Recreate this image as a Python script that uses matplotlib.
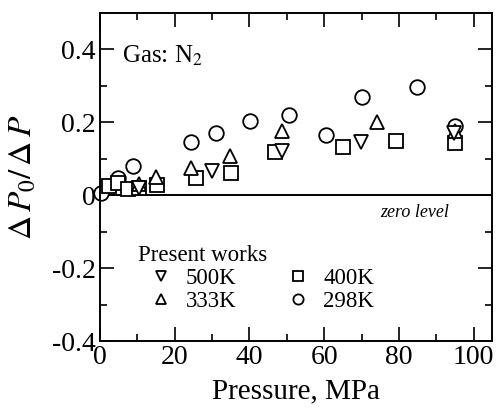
import matplotlib
matplotlib.use("Agg")
import matplotlib.pyplot as plt
import matplotlib.transforms as mtransforms

plt.rcParams['font.family'] = ['Liberation Serif', 'DejaVu Serif']
plt.rcParams['mathtext.fontset'] = 'stix'

# 298K (circles)
p298 = [0.3, 4.7, 8.9, 24.4, 31.1, 40.2, 50.5, 60.6, 70.0, 84.9, 94.9]
r298 = [0.006, 0.046, 0.081, 0.145, 0.170, 0.205, 0.221, 0.166, 0.270, 0.297, 0.191]
# 400K (squares)
p400 = [2.4, 4.7, 7.6, 10.5, 15.3, 25.8, 35.1, 46.8, 64.9, 79.3, 94.9]
r400 = [0.025, 0.034, 0.018, 0.020, 0.029, 0.046, 0.062, 0.118, 0.131, 0.149, 0.144]
# 333K (up triangles)
p333 = [10.5, 15.1, 24.4, 34.8, 48.7, 74.2, 94.9]
r333 = [0.032, 0.050, 0.074, 0.108, 0.177, 0.200, 0.175]
# 500K (down triangles)
p500 = [10.4, 30.0, 48.7, 69.8, 94.7]
r500 = [0.020, 0.066, 0.122, 0.145, 0.170]

fig = plt.figure(figsize=(4.97, 4.12), dpi=100)
ax = fig.add_axes([0.2012, 0.1723, 0.7896, 0.7961])

ax.axhline(0, color='k', lw=1.4, zorder=1)

style = dict(ls='none', mfc='white', mec='k', mew=1.3)
h298, = ax.plot(p298, r298, 'o', ms=10.5, label='298K', **style)
h400, = ax.plot(p400, r400, 's', ms=9.5, label='400K', **style)
h333, = ax.plot(p333, r333, '^', ms=10, label='333K', **style)
h500, = ax.plot(p500, r500, 'v', ms=10, label='500K', **style)
for h in (h298, h400, h333, h500):
    h.set_clip_on(False)

ax.set_xlim(0, 105)
ax.set_ylim(-0.4, 0.5)
ax.set_xticks([0, 20, 40, 60, 80, 100])
ax.set_xticks(range(10, 101, 20), minor=True)
ax.set_yticks([-0.4, -0.2, 0, 0.2, 0.4])
ax.set_yticklabels(['-0.4', '-0.2', '0', '0.2', '0.4'])
ax.set_yticks([-0.3, -0.1, 0.1, 0.3], minor=True)
ax.tick_params(which='both', direction='in', top=True, right=True,
               labelsize=20, width=1.2)
ax.tick_params(which='major', length=10)
ax.tick_params(which='minor', length=5)
ax.tick_params(axis='x', pad=3)
ax.tick_params(axis='y', pad=3)
for s in ax.spines.values():
    s.set_linewidth(1.4)

ax.set_xlabel('Pressure, MPa', fontsize=21, labelpad=6)
ax.set_ylabel(r'$\Delta\,P_0/\,\Delta\,P$', fontsize=24, labelpad=10)

ax.text(0.055, 0.87, r'Gas: N$_2$', transform=ax.transAxes, fontsize=18,
        ha='left', va='center')
trans = mtransforms.blended_transform_factory(ax.transData, ax.transData)
ax.text(93.3, -0.047, 'zero level', fontsize=13, style='italic',
        ha='right', va='center', transform=trans)

ax.text(0.097, 0.262, 'Present works', transform=ax.transAxes, fontsize=16.5,
        ha='left', va='center')
leg = ax.legend(handles=[h500, h333, h400, h298], ncol=2, loc='center left',
                bbox_to_anchor=(0.125, 0.155), frameon=False, fontsize=16.5,
                markerscale=0.7, handlelength=1.0, handletextpad=0.6,
                columnspacing=2.2, labelspacing=0.1, borderaxespad=0,
                borderpad=0)

fig.savefig('out.png', dpi=100)
